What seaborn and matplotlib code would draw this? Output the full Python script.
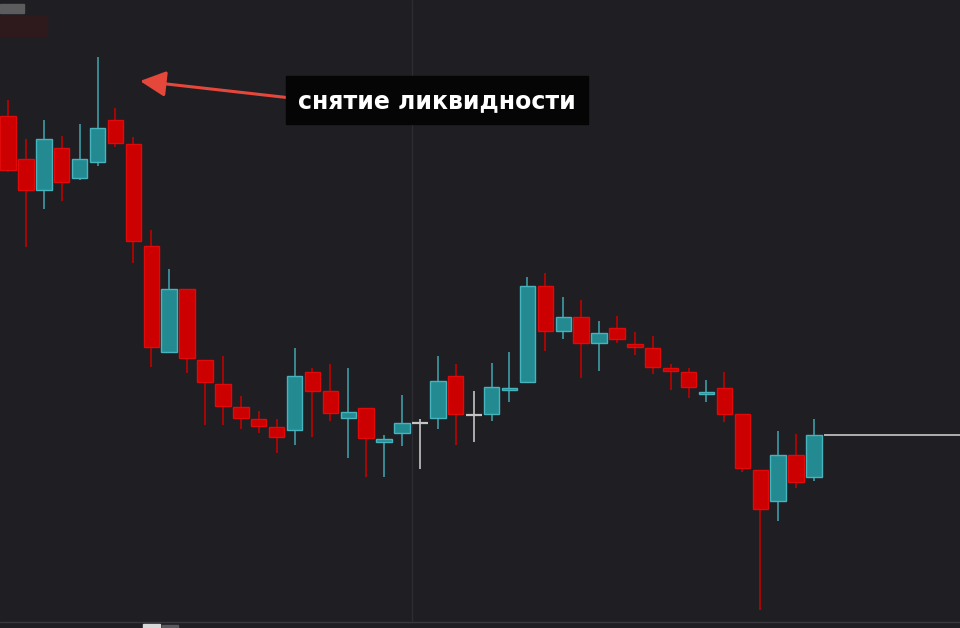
import numpy as np
import pandas as pd
import matplotlib
matplotlib.use('Agg')
import matplotlib.pyplot as plt
import matplotlib.patches as mpatches
import seaborn as sns

# ------------------------------------------------------------
# OHLC data (arbitrary price units)
# ------------------------------------------------------------
opens  = [524, 481, 450, 492, 462, 478, 520, 496, 394, 288,
          351, 280, 256, 233, 221, 213, 210, 268, 249, 222,
          232, 198, 207, 217, 222, 264, 225, 226, 250, 258,
          354, 309, 323, 297, 312, 296, 292, 272, 268, 246,
          252, 226, 170, 139, 185, 163]
highs  = [540, 501, 520, 504, 516, 583, 532, 503, 410, 371,
          351, 280, 284, 244, 229, 221, 292, 272, 276, 272,
          232, 205, 245, 221, 284, 276, 249, 277, 288, 363,
          367, 343, 340, 319, 324, 308, 304, 276, 272, 260,
          268, 226, 170, 209, 206, 221]
lows   = [468, 393, 431, 439, 460, 474, 493, 377, 273, 288,
          267, 215, 215, 211, 207, 187, 195, 203, 219, 182,
          163, 163, 194, 171, 211, 195, 198, 219, 238, 258,
          289, 301, 262, 269, 297, 285, 266, 250, 242, 238,
          218, 168, 30, 119, 152, 159]
closes = [470, 450, 501, 458, 481, 512, 497, 399, 293, 351,
          282, 258, 234, 222, 214, 203, 264, 249, 227, 228,
          202, 201, 217, 217, 259, 226, 225, 253, 252, 354,
          309, 323, 297, 307, 301, 293, 273, 269, 253, 248,
          226, 172, 131, 185, 158, 205]

annotation_text = 'снятие ликвидности'

# ------------------------------------------------------------
# colours
# ------------------------------------------------------------
BG = '#1e1e23'
UP_FILL, UP_EDGE, UP_WICK = '#248a91', '#46b3bd', '#3e9ca6'
DN_FILL, DN_EDGE, DN_WICK = '#cc0000', '#e00a0a', '#c00000'
DOJI = '#c4c4c4'

df = pd.DataFrame({'open': opens, 'high': highs, 'low': lows, 'close': closes})
df['idx'] = np.arange(len(df))
df['dir'] = np.sign(df['close'] - df['open'])
df['body_lo'] = df[['open', 'close']].min(axis=1)
df['body_h'] = (df['close'] - df['open']).abs()

sns.set_theme(style='dark', rc={'axes.facecolor': BG, 'figure.facecolor': BG})
plt.rcParams['font.family'] = ['DejaVu Sans']

fig = plt.figure(figsize=(9.6, 6.28), dpi=100)
ax = fig.add_axes([0, 0, 1, 1])
ax.set_facecolor(BG)

step_px = 17.91
x_left = -8 / step_px
ax.set_xlim(x_left, x_left + 960 / step_px)
ax.set_ylim(12, 640)

# vertical grid line + bottom border (axes coords)
ax.plot([412 / 960, 412 / 960], [6 / 628, 1], transform=ax.transAxes,
        color='#2c2c32', lw=1, zorder=1)
ax.plot([0, 1], [6 / 628, 6 / 628], transform=ax.transAxes,
        color='#38383e', lw=1, zorder=1)

# wicks
wick_colors = df['dir'].map({1: UP_WICK, -1: DN_WICK, 0: DOJI})
ax.vlines(df['idx'], df['low'], df['high'], colors=wick_colors, lw=1.2, zorder=2)

# bodies
up = df[df['dir'] > 0]
dn = df[df['dir'] < 0]
dj = df[df['dir'] == 0]
ax.bar(up['idx'], up['body_h'], bottom=up['body_lo'], width=0.86,
       color=UP_FILL, edgecolor=UP_EDGE, linewidth=1, zorder=3)
ax.bar(dn['idx'], dn['body_h'], bottom=dn['body_lo'], width=0.86,
       color=DN_FILL, edgecolor=DN_EDGE, linewidth=1, zorder=3)
ax.hlines(dj['close'], dj['idx'] - 0.45, dj['idx'] + 0.45, colors=DOJI, lw=1.6, zorder=3)

# last price level line
last = df.iloc[-1]
ax.hlines(last['close'], last['idx'] + 0.55, ax.get_xlim()[1], colors='#c8c8c8', lw=1.2, zorder=2)

ax.set_xticks([])
ax.set_yticks([])
for s in ax.spines.values():
    s.set_visible(False)

# blurred watermark bits top-left / bottom
fig.patches.append(mpatches.Rectangle((0, 1 - 13 / 628), 24 / 960, 9 / 628,
                                      transform=fig.transFigure, color='#5c5c5e', zorder=5))
fig.patches.append(mpatches.Rectangle((0, 1 - 36 / 628), 47 / 960, 20 / 628,
                                      transform=fig.transFigure, color='#2e191c', zorder=5))
fig.patches.append(mpatches.Rectangle((143 / 960, 0), 17 / 960, 4 / 628,
                                      transform=fig.transFigure, color='#d8d8d8', zorder=5))
fig.patches.append(mpatches.Rectangle((162 / 960, 0), 16 / 960, 3 / 628,
                                      transform=fig.transFigure, color='#5a5a5e', zorder=5))

# annotation: arrow + black label
ax.annotate('', xy=(140 / 960, 1 - 81 / 628), xycoords='figure fraction',
            xytext=(300 / 960, 1 - 99 / 628), textcoords='figure fraction',
            arrowprops=dict(arrowstyle='-|>,head_length=1.3,head_width=0.65',
                            color='#e5473b', lw=2.2, shrinkA=0, shrinkB=0),
            zorder=6)
fig.patches.append(mpatches.Rectangle((286 / 960, 1 - 124 / 628), 302 / 960, 48 / 628,
                                      transform=fig.transFigure, color='#050505', zorder=7))
fig.text(437 / 960, 1 - 101 / 628, annotation_text, color='white', fontsize=17,
         fontweight='bold', ha='center', va='center', zorder=8)

fig.savefig('out.png', dpi=100, facecolor=BG)
